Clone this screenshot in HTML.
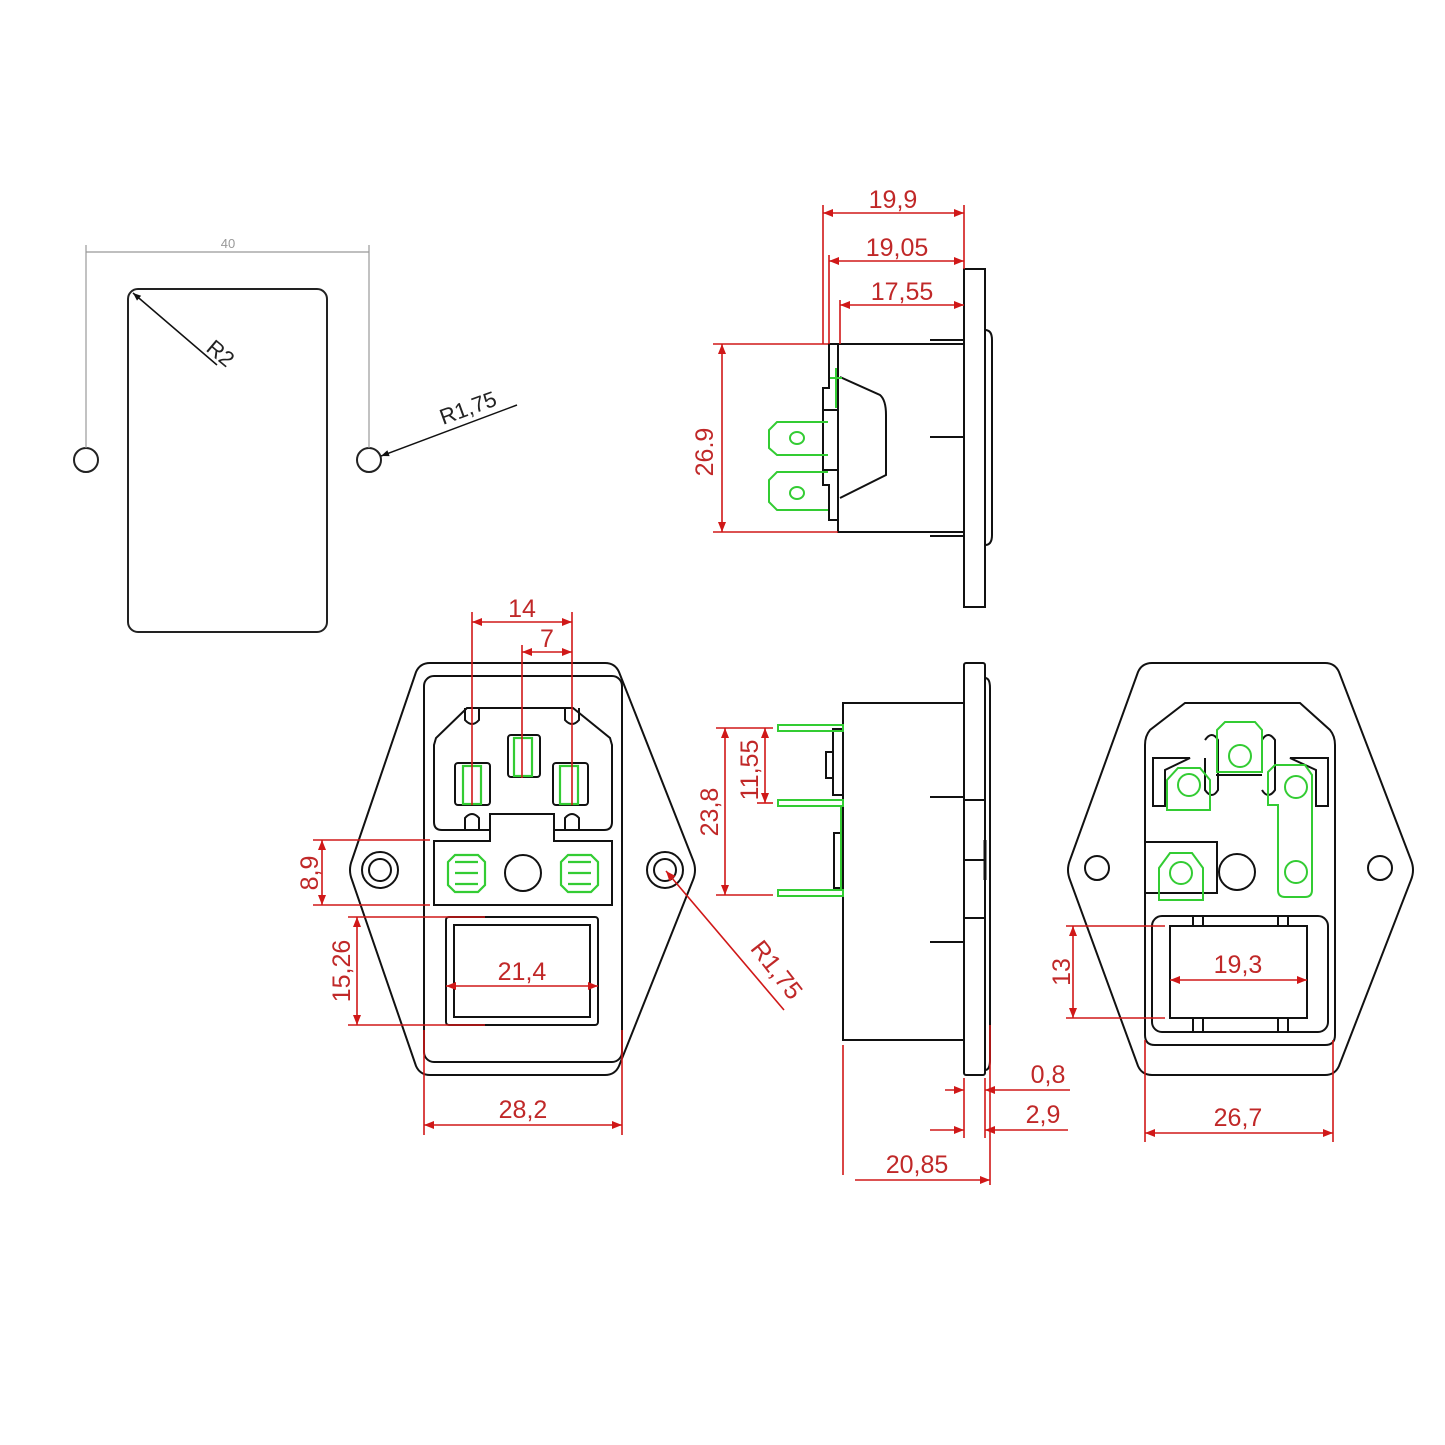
<!DOCTYPE html>
<html><head><meta charset="utf-8"><style>html,body{margin:0;padding:0;background:#fff}svg{display:block}</style></head><body>
<svg width="1445" height="1445" viewBox="0 0 1445 1445" xmlns="http://www.w3.org/2000/svg" font-family="Liberation Sans, sans-serif">
<defs>
<marker id="a" viewBox="0 0 10 10" refX="10" refY="5" markerWidth="14" markerHeight="10" markerUnits="userSpaceOnUse" orient="auto-start-reverse"><path d="M0,1 L10,5 L0,9 Z" fill="#d01818"/></marker>
<marker id="k" viewBox="0 0 10 10" refX="10" refY="5" markerWidth="12" markerHeight="8" markerUnits="userSpaceOnUse" orient="auto-start-reverse"><path d="M0,1 L10,5 L0,9 Z" fill="#111"/></marker>
</defs>
<rect width="1445" height="1445" fill="#fff"/>
<!-- cutout -->
<g fill="none" stroke="#222" stroke-width="2">
<rect x="128" y="289" width="199" height="343" rx="10"/>
<circle cx="86" cy="460" r="12"/><circle cx="369" cy="460" r="12"/>
</g>
<g stroke="#999" stroke-width="1.2"><line x1="86" y1="245" x2="86" y2="448"/><line x1="369" y1="245" x2="369" y2="448"/><line x1="86" y1="252" x2="369" y2="252"/></g>
<text x="228" y="248" font-size="13" fill="#999" text-anchor="middle">40</text>
<line x1="217" y1="365" x2="133" y2="293" stroke="#111" stroke-width="1.5" marker-end="url(#k)"/>
<text x="205" y="350" font-size="22" fill="#222" transform="rotate(40 205 350)">R2</text>
<line x1="517" y1="405" x2="381" y2="456" stroke="#111" stroke-width="1.5" marker-end="url(#k)"/>
<text x="443" y="425" font-size="22" fill="#222" transform="rotate(-20 443 425)">R1,75</text>

<!-- top side view -->
<g fill="none" stroke="#111" stroke-width="2">
<rect x="964" y="269" width="21" height="338"/>
<path d="M985,330 Q992,330 992,340 L992,535 Q992,545 985,545"/>
<rect x="838" y="344" width="126" height="188"/>
<line x1="930" y1="340" x2="964" y2="340"/><line x1="930" y1="536" x2="964" y2="536"/>
<line x1="930" y1="437" x2="964" y2="437"/>
<path d="M840,377 L880,395 Q886,400 886,415 L886,475 L840,498"/>
<path d="M829,344 L838,344 L838,520 L829,520 L829,485 L823,485 L823,388 L829,388 Z"/>
<line x1="823" y1="410" x2="838" y2="410"/><line x1="823" y1="470" x2="838" y2="470"/>
</g>
<g fill="none" stroke="#3c3" stroke-width="2">
<path d="M828,422 L777,422 L769,430 L769,448 L777,455 L828,455"/>
<ellipse cx="797" cy="438" rx="7" ry="6"/>
<path d="M828,472 L777,472 L769,480 L769,502 L777,510 L828,510"/>
<ellipse cx="797" cy="493" rx="7" ry="6"/>
<path d="M836,368 L836,408 M830,378 L842,378"/>
</g>
<g stroke="#d01818" stroke-width="1.6" fill="none">
<line x1="823" y1="205" x2="823" y2="344"/><line x1="829" y1="255" x2="829" y2="344"/><line x1="840" y1="300" x2="840" y2="344"/>
<line x1="964" y1="205" x2="964" y2="269"/>
<line x1="823" y1="213" x2="964" y2="213" marker-start="url(#a)" marker-end="url(#a)"/>
<line x1="829" y1="261" x2="964" y2="261" marker-start="url(#a)" marker-end="url(#a)"/>
<line x1="840" y1="305" x2="964" y2="305" marker-start="url(#a)" marker-end="url(#a)"/>
<line x1="713" y1="344" x2="828" y2="344"/><line x1="713" y1="532" x2="838" y2="532"/>
<line x1="722" y1="344" x2="722" y2="532" marker-start="url(#a)" marker-end="url(#a)"/>
</g>
<g fill="#c02828" font-size="25" text-anchor="middle">
<text x="893" y="208">19,9</text><text x="897" y="256">19,05</text><text x="902" y="300">17,55</text>
<text x="713" y="452" transform="rotate(-90 713 452)">26.9</text>
</g>

<!-- front view -->
<g fill="none" stroke="#111" stroke-width="2">
<path d="M430,663 L605,663 Q615,663 619,672 L693,860 Q697,870 693,880 L619,1066 Q615,1075 605,1075 L430,1075 Q420,1075 416,1066 L352,880 Q348,870 352,860 L416,672 Q420,663 430,663 Z"/>
<rect x="424" y="676" width="198" height="386" rx="10"/>
<path d="M467,708 L573,708 L610,738 L612,745 L612,822 Q612,830 604,830 L554,830 L554,814 L490,814 L490,830 L442,830 Q434,830 434,822 L434,745 L436,738 Z"/>
<path d="M490,814 L490,841 L434,841 L434,905 L612,905 L612,841 L554,841 L554,814"/>
<rect x="455" y="763" width="35" height="42" rx="3"/><rect x="508" y="735" width="32" height="42" rx="3"/><rect x="553" y="763" width="35" height="42" rx="3"/>
<path d="M465,708 L465,720 Q472,728 479,720 L479,708 M565,708 L565,720 Q572,728 579,720 L579,708 M465,830 L465,818 Q472,810 479,818 L479,830 M565,830 L565,818 Q572,810 579,818 L579,830"/>
<circle cx="523" cy="873" r="18"/>
<circle cx="380" cy="870" r="18"/><circle cx="380" cy="870" r="11"/>
<circle cx="665" cy="870" r="18"/><circle cx="665" cy="870" r="11"/>
<rect x="446" y="917" width="152" height="108" rx="3"/>
<rect x="454" y="925" width="136" height="92"/>
</g>
<g fill="none" stroke="#3c3" stroke-width="2.2">
<rect x="463" y="766" width="18" height="38"/><rect x="514" y="738" width="18" height="38"/><rect x="560" y="766" width="18" height="38"/>
<path d="M448,862 L455,855 L478,855 L485,862 L485,885 L478,892 L455,892 L448,885 Z M455,862 L478,862 M455,873 L478,873 M455,884 L478,884"/>
<path d="M561,862 L568,855 L591,855 L598,862 L598,885 L591,892 L568,892 L561,885 Z M568,862 L591,862 M568,873 L591,873 M568,884 L591,884"/>
</g>
<g stroke="#d01818" stroke-width="1.6" fill="none">
<line x1="472" y1="612" x2="472" y2="805"/><line x1="522" y1="645" x2="522" y2="778"/><line x1="572" y1="612" x2="572" y2="805"/>
<line x1="472" y1="622" x2="572" y2="622" marker-start="url(#a)" marker-end="url(#a)"/>
<line x1="522" y1="652" x2="572" y2="652" marker-start="url(#a)" marker-end="url(#a)"/>
<line x1="313" y1="840" x2="430" y2="840"/><line x1="313" y1="905" x2="430" y2="905"/>
<line x1="322" y1="840" x2="322" y2="905" marker-start="url(#a)" marker-end="url(#a)"/>
<line x1="348" y1="917" x2="485" y2="917"/><line x1="348" y1="1025" x2="485" y2="1025"/>
<line x1="357" y1="917" x2="357" y2="1025" marker-start="url(#a)" marker-end="url(#a)"/>
<line x1="446" y1="986" x2="598" y2="986" marker-start="url(#a)" marker-end="url(#a)"/>
<line x1="424" y1="1030" x2="424" y2="1135"/><line x1="622" y1="1030" x2="622" y2="1135"/>
<line x1="424" y1="1125" x2="622" y2="1125" marker-start="url(#a)" marker-end="url(#a)"/>
<line x1="784" y1="1010" x2="666" y2="871" marker-end="url(#a)"/>
</g>
<g fill="#c02828" font-size="25" text-anchor="middle">
<text x="522" y="617">14</text><text x="547" y="647">7</text>
<text x="318" y="873" transform="rotate(-90 318 873)">8,9</text>
<text x="350" y="971" transform="rotate(-90 350 971)">15,26</text>
<text x="522" y="980">21,4</text><text x="523" y="1118">28,2</text>
<text x="770" y="975" transform="rotate(52 770 975)">R1,75</text>
</g>

<!-- bottom side view -->
<g fill="none" stroke="#111" stroke-width="2">
<rect x="964" y="663" width="21" height="412" rx="2"/>
<path d="M985,678 Q990,678 990,688 L990,1060 Q990,1070 985,1070"/>
<rect x="843" y="703" width="121" height="337"/>
<line x1="930" y1="797" x2="964" y2="797"/><line x1="930" y1="942" x2="964" y2="942"/>
<line x1="964" y1="800" x2="985" y2="800"/><line x1="964" y1="860" x2="985" y2="860"/><line x1="964" y1="918" x2="985" y2="918"/>
<rect x="833" y="729" width="10" height="66"/><rect x="826" y="752" width="7" height="26"/>
<rect x="834" y="833" width="9" height="55"/>
<line x1="985" y1="840" x2="985" y2="880" stroke-width="3"/>
</g>
<g fill="none" stroke="#3c3" stroke-width="2">
<rect x="778" y="725" width="65" height="6"/><rect x="778" y="800" width="65" height="6"/><rect x="778" y="890" width="65" height="6"/>
<line x1="841" y1="805" x2="841" y2="890"/>
</g>
<g stroke="#d01818" stroke-width="1.6" fill="none">
<line x1="716" y1="728" x2="773" y2="728"/><line x1="716" y1="895" x2="773" y2="895"/><line x1="757" y1="803" x2="773" y2="803"/>
<line x1="725" y1="728" x2="725" y2="895" marker-start="url(#a)" marker-end="url(#a)"/>
<line x1="765" y1="728" x2="765" y2="803" marker-start="url(#a)" marker-end="url(#a)"/>
<line x1="843" y1="1045" x2="843" y2="1175"/>
<line x1="964" y1="1078" x2="964" y2="1138"/><line x1="985" y1="1078" x2="985" y2="1138"/><line x1="990" y1="1025" x2="990" y2="1185"/>
<line x1="945" y1="1090" x2="964" y2="1090" marker-end="url(#a)"/><line x1="1070" y1="1090" x2="985" y2="1090" marker-end="url(#a)"/>
<line x1="930" y1="1130" x2="964" y2="1130" marker-end="url(#a)"/><line x1="1068" y1="1130" x2="985" y2="1130" marker-end="url(#a)"/>
<line x1="855" y1="1180" x2="990" y2="1180" marker-end="url(#a)"/>
</g>
<g fill="#c02828" font-size="25" text-anchor="middle">
<text x="718" y="812" transform="rotate(-90 718 812)">23,8</text>
<text x="758" y="770" transform="rotate(-90 758 770)">11,55</text>
<text x="1048" y="1083">0,8</text><text x="1043" y="1123">2,9</text><text x="917" y="1173">20,85</text>
</g>

<!-- rear view -->
<g fill="none" stroke="#111" stroke-width="2">
<path d="M1152,663 L1325,663 Q1335,663 1339,672 L1411,860 Q1415,870 1411,880 L1339,1066 Q1335,1075 1325,1075 L1152,1075 Q1142,1075 1138,1066 L1070,880 Q1066,870 1070,860 L1138,672 Q1142,663 1152,663 Z"/>
<circle cx="1097" cy="868" r="12"/><circle cx="1380" cy="868" r="12"/>
<path d="M1185,703 L1300,703 L1330,730 Q1335,736 1335,745 L1335,1035 Q1335,1045 1325,1045 L1155,1045 Q1145,1045 1145,1035 L1145,745 Q1145,736 1150,730 Z"/>
<rect x="1152" y="916" width="176" height="116" rx="10"/>
<rect x="1170" y="926" width="137" height="92"/>
<path d="M1153,758 L1153,806 L1165,806 L1165,770 L1190,758 Z M1328,758 L1328,806 L1316,806 L1316,770 L1290,758 Z"/>
<path d="M1205,758 L1205,790 Q1212,800 1218,790 L1218,740 Q1212,730 1205,740 M1262,790 Q1268,800 1275,790 L1275,740 Q1268,730 1262,740"/>
<path d="M1216,775 L1262,775"/>
<path d="M1145,842 L1217,842 L1217,893 L1145,893"/>
<circle cx="1237" cy="872" r="18"/>
<line x1="1193" y1="916" x2="1193" y2="926"/><line x1="1203" y1="916" x2="1203" y2="926"/><line x1="1278" y1="916" x2="1278" y2="926"/><line x1="1288" y1="916" x2="1288" y2="926"/>
<line x1="1193" y1="1018" x2="1193" y2="1032"/><line x1="1203" y1="1018" x2="1203" y2="1032"/><line x1="1278" y1="1018" x2="1278" y2="1032"/><line x1="1288" y1="1018" x2="1288" y2="1032"/>
</g>
<g fill="none" stroke="#3c3" stroke-width="2">
<path d="M1217,730 L1225,722 L1255,722 L1262,730 L1262,772 L1217,772 Z"/><circle cx="1240" cy="756" r="11"/>
<path d="M1167,810 L1167,780 L1178,768 L1200,768 L1210,780 L1210,810 Z"/><circle cx="1189" cy="785" r="11"/>
<path d="M1268,772 L1275,765 L1305,765 L1312,775 L1312,890 Q1312,897 1305,897 L1285,897 Q1278,897 1278,890 L1278,805 L1268,805 Z"/><circle cx="1296" cy="787" r="11"/><circle cx="1296" cy="872" r="11"/>
<path d="M1159,900 L1159,868 L1170,853 L1192,853 L1203,868 L1203,900 Z"/><circle cx="1181" cy="873" r="11"/>
</g>
<g stroke="#d01818" stroke-width="1.6" fill="none">
<line x1="1066" y1="926" x2="1165" y2="926"/><line x1="1066" y1="1018" x2="1165" y2="1018"/>
<line x1="1073" y1="926" x2="1073" y2="1018" marker-start="url(#a)" marker-end="url(#a)"/>
<line x1="1170" y1="980" x2="1307" y2="980" marker-start="url(#a)" marker-end="url(#a)"/>
<line x1="1145" y1="1040" x2="1145" y2="1142"/><line x1="1333" y1="1040" x2="1333" y2="1142"/>
<line x1="1145" y1="1133" x2="1333" y2="1133" marker-start="url(#a)" marker-end="url(#a)"/>
</g>
<g fill="#c02828" font-size="25" text-anchor="middle">
<text x="1070" y="972" transform="rotate(-90 1070 972)">13</text>
<text x="1238" y="973">19,3</text><text x="1238" y="1126">26,7</text>
</g>
</svg>
</body></html>
